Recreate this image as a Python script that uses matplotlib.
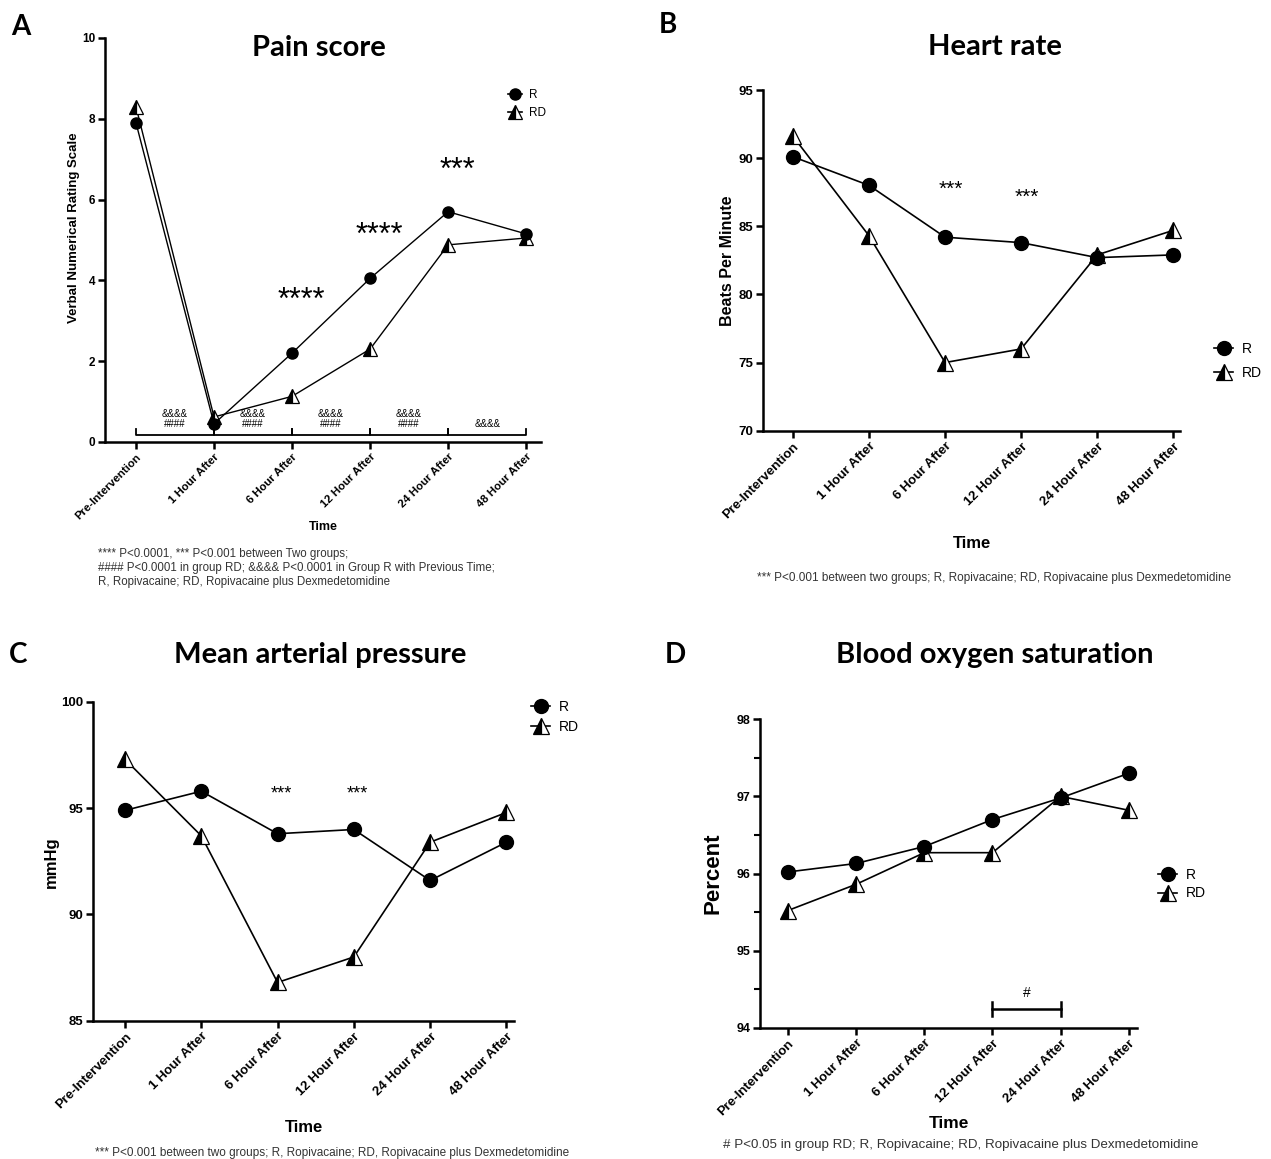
import matplotlib
matplotlib.use('Agg')
import matplotlib.pyplot as plt
from matplotlib.lines import Line2D
from matplotlib.ticker import MultipleLocator

W, H = 1271, 1159
DPI = 100

# ---------------- data ----------------
time_labels = ['Pre-Intervention', '1 Hour After', '6 Hour After',
               '12 Hour After', '24 Hour After', '48 Hour After']

pain_R = [7.9, 0.45, 2.2, 4.05, 5.7, 5.15]
pain_RD = [8.3, 0.62, 1.13, 2.3, 4.88, 5.05]
hr_R = [90.1, 88.0, 84.2, 83.8, 82.7, 82.9]
hr_RD = [91.6, 84.3, 75.0, 76.0, 82.9, 84.7]
map_R = [94.9, 95.8, 93.8, 94.0, 91.6, 93.4]
map_RD = [97.3, 93.7, 86.8, 88.0, 93.4, 94.8]
spo2_R = [96.02, 96.13, 96.35, 96.7, 96.98, 97.3]
spo2_RD = [95.52, 95.86, 96.27, 96.27, 97.0, 96.82]

pain_star_idx = [2, 3, 4]
pain_star_txt = ['****', '****', '***']
pain_star_y = [3.5, 5.1, 6.7]
pain_brackets = [(0, 1), (1, 2), (2, 3), (3, 4), (4, 5)]
pain_bracket_txt = ['&&&&\n####', '&&&&\n####', '&&&&\n####', '&&&&\n####', '&&&&']

hr_star_idx = [2, 3]
hr_star_y = [87.7, 87.1]
map_star_idx = [2, 3]
map_star_y = [95.65, 95.65]
spo2_bracket = (3, 4)
spo2_bracket_txt = '#'

foot_A = ("**** P<0.0001, *** P<0.001 between Two groups;\n"
          "#### P<0.0001 in group RD; &&&& P<0.0001 in Group R with Previous Time;\n"
          "R, Ropivacaine; RD, Ropivacaine plus Dexmedetomidine")
foot_B = "*** P<0.001 between two groups; R, Ropivacaine; RD, Ropivacaine plus Dexmedetomidine"
foot_C = "*** P<0.001 between two groups; R, Ropivacaine; RD, Ropivacaine plus Dexmedetomidine"
foot_D = "# P<0.05 in group RD; R, Ropivacaine; RD, Ropivacaine plus Dexmedetomidine"

# ---------------- helpers ----------------
plt.rcParams['font.family'] = ['Liberation Sans', 'DejaVu Sans']
TITLE_FONT = ['Lato', 'DejaVu Sans']
NARROW = ['Liberation Sans Narrow', 'Liberation Sans', 'DejaVu Sans']

fig = plt.figure(figsize=(W / DPI, H / DPI), dpi=DPI)


def fx(px):
    return px / W


def fy(py):
    return 1 - py / H


def make_ax(l, r, t, b):
    return fig.add_axes([l / W, 1 - b / H, (r - l) / W, (b - t) / H])


def style(ax, xlim, ylim, yticks, xfs, yfs, minor=None):
    ax.set_xlim(*xlim)
    ax.set_ylim(*ylim)
    for s in ['top', 'right']:
        ax.spines[s].set_visible(False)
    for s in ['left', 'bottom']:
        ax.spines[s].set_linewidth(1.8)
    ax.set_yticks(yticks)
    ax.set_xticks(range(len(time_labels)))
    ax.set_xticklabels(time_labels, rotation=45, ha='right', va='top',
                       rotation_mode='anchor', fontweight='bold', fontsize=xfs,
                       family=NARROW)
    for lab in ax.get_yticklabels():
        lab.set_fontweight('bold')
        lab.set_fontsize(yfs)
        lab.set_family(NARROW)
    ax.tick_params(axis='both', which='major', direction='out', length=5, width=1.8, pad=2)
    if minor is not None:
        ax.yaxis.set_minor_locator(MultipleLocator(minor))
        ax.tick_params(axis='y', which='minor', direction='out', length=4, width=1.5)


def plot_series(ax, r, rd, ms_c, ms_t, lw=1.2):
    x = range(len(time_labels))
    ax.plot(x, rd, color='black', lw=lw, marker='^', ms=ms_t, fillstyle='left',
            markerfacecolor='black', markerfacecoloralt='white',
            markeredgecolor='black', markeredgewidth=0.9, zorder=3, clip_on=False)
    ax.plot(x, r, color='black', lw=lw, marker='o', ms=ms_c,
            markerfacecolor='black', markeredgecolor='black', zorder=4, clip_on=False)


def add_legend(ax, xl, yc, fs, ms_c, ms_t, handlelength, spacing):
    h1 = Line2D([], [], color='black', lw=1.2, marker='o', ms=ms_c)
    h2 = Line2D([], [], color='black', lw=1.2, marker='^', ms=ms_t, fillstyle='left',
                markerfacecolor='black', markerfacecoloralt='white',
                markeredgecolor='black', markeredgewidth=0.9)
    ax.legend([h1, h2], ['R', 'RD'], loc='center left', bbox_to_anchor=(fx(xl), fy(yc)),
              bbox_transform=fig.transFigure, frameon=False, fontsize=fs,
              handlelength=handlelength, handletextpad=0.6, borderpad=0,
              labelspacing=spacing, borderaxespad=0)


def ftext(px, py, s, **kw):
    fig.text(fx(px), fy(py), s, **kw)


# ---------------- Panel A ----------------
axA = make_ax(105, 541, 38, 442)
style(axA, (-0.397, 5.19), (0, 10), range(0, 11, 2), 8.2, 8.5)
plot_series(axA, pain_R, pain_RD, 8, 10, lw=1.0)
for i, t, y in zip(pain_star_idx, pain_star_txt, pain_star_y):
    axA.text(i + 0.12, y, t, ha='center', va='center', fontsize=22)
for (a, b), t in zip(pain_brackets, pain_bracket_txt):
    axA.plot([a, a, b, b], [0.33, 0.18, 0.18, 0.33], color='black', lw=1.3, clip_on=False)
    axA.text((a + b) / 2, 0.33, t, ha='center', va='bottom', fontsize=7,
             linespacing=1.0, family=NARROW)
add_legend(axA, 508, 104, 8.5, 8, 10, 1.2, 0.45)
ftext(74, 228, 'Verbal Numerical Rating Scale', rotation=90, ha='center', va='center',
      fontsize=9.5, fontweight='bold')
ftext(323, 527, 'Time', ha='center', va='center', fontsize=9, fontweight='bold')
ftext(98, 568, foot_A, ha='left', va='center', fontsize=8.3, color='#333333', linespacing=1.2)
ftext(319, 48, 'Pain score', ha='center', va='center', fontsize=21, fontweight='bold',
      family=TITLE_FONT)
ftext(21, 27, 'A', ha='center', va='center', fontsize=20, fontweight='bold', family=TITLE_FONT)

# ---------------- Panel B ----------------
axB = make_ax(763, 1180, 90, 430.7)
style(axB, (-0.395, 5.09), (70, 95), range(70, 96, 5), 9.5, 9.5)
plot_series(axB, hr_R, hr_RD, 10, 12)
for i, y in zip(hr_star_idx, hr_star_y):
    axB.text(i + 0.08, y, '***', ha='center', va='center', fontsize=15)
add_legend(axB, 1214, 361, 10, 10, 12, 1.4, 0.75)
ftext(727, 261, 'Beats Per Minute', rotation=90, ha='center', va='center',
      fontsize=11.5, fontweight='bold')
ftext(972, 543, 'Time', ha='center', va='center', fontsize=12, fontweight='bold')
ftext(994, 578, foot_B, ha='center', va='center', fontsize=8.45, color='#333333')
ftext(995, 47, 'Heart rate', ha='center', va='center', fontsize=21, fontweight='bold',
      family=TITLE_FONT)
ftext(668, 25, 'B', ha='center', va='center', fontsize=20, fontweight='bold', family=TITLE_FONT)

# ---------------- Panel C ----------------
axC = make_ax(93, 514, 702, 1020.7)
style(axC, (-0.42, 5.1), (85, 100), range(85, 101, 5), 9.5, 9.5)
plot_series(axC, map_R, map_RD, 10, 12)
for i, y in zip(map_star_idx, map_star_y):
    axC.text(i + 0.05, y, '***', ha='center', va='center', fontsize=13)
add_legend(axC, 531, 717, 10, 10, 12, 1.4, 0.45)
ftext(51, 862, 'mmHg', rotation=90, ha='center', va='center', fontsize=12, fontweight='bold')
ftext(304, 1128, 'Time', ha='center', va='center', fontsize=12, fontweight='bold')
ftext(95, 1153, foot_C, ha='left', va='center', fontsize=8.5, color='#333333')
ftext(320, 655, 'Mean arterial pressure', ha='center', va='center', fontsize=21,
      fontweight='bold', family=TITLE_FONT)
ftext(18, 655, 'C', ha='center', va='center', fontsize=20, fontweight='bold', family=TITLE_FONT)

# ---------------- Panel D ----------------
axD = make_ax(760, 1137, 719.3, 1027.7)
style(axD, (-0.41, 5.12), (94, 98), range(94, 99), 9.5, 9, minor=0.5)
plot_series(axD, spo2_R, spo2_RD, 10, 12)
a, b = spo2_bracket
axD.plot([a, b], [94.24, 94.24], color='black', lw=1.8)
axD.plot([a, a], [94.15, 94.33], color='black', lw=1.8)
axD.plot([b, b], [94.15, 94.33], color='black', lw=1.8)
axD.text((a + b) / 2, 94.36, spo2_bracket_txt, ha='center', va='bottom', fontsize=10)
add_legend(axD, 1158, 884, 10, 10, 12, 1.4, 0.35)
ftext(713, 873, 'Percent', rotation=90, ha='center', va='center', fontsize=16, fontweight='bold')
ftext(949, 1123, 'Time', ha='center', va='center', fontsize=12.5, fontweight='bold')
ftext(961, 1145, foot_D, ha='center', va='center', fontsize=9.6, color='#333333')
ftext(995, 655, 'Blood oxygen saturation', ha='center', va='center', fontsize=21,
      fontweight='bold', family=TITLE_FONT)
ftext(675, 655, 'D', ha='center', va='center', fontsize=20, fontweight='bold', family=TITLE_FONT)

fig.savefig('out.png', dpi=DPI)
